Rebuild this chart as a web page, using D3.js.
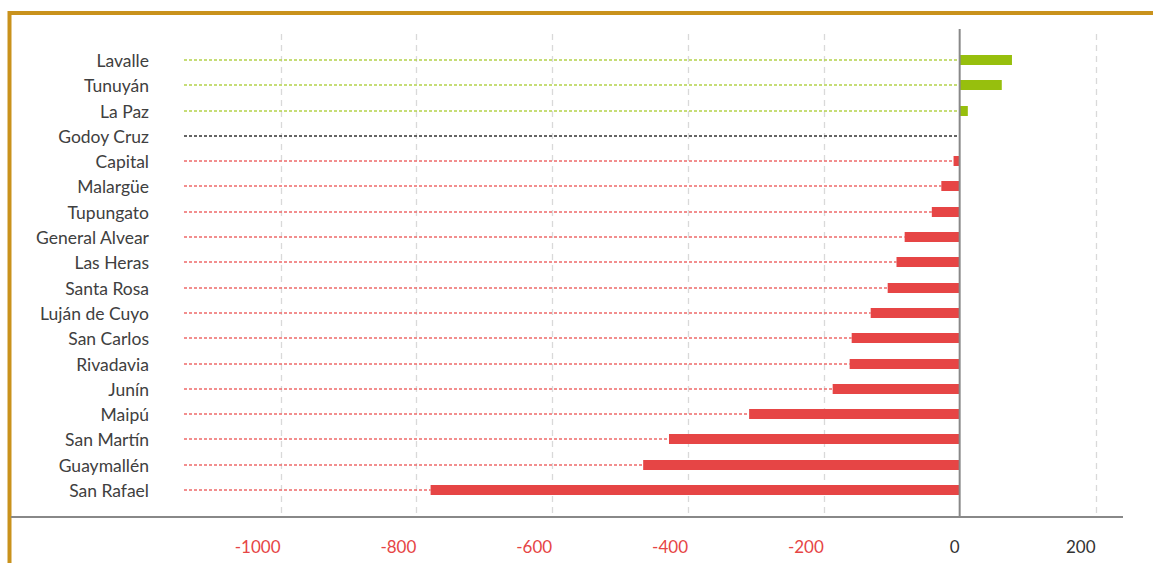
<!DOCTYPE html>
<html><head><meta charset="utf-8">
<script src="https://cdn.jsdelivr.net/npm/d3@7"></script>
<style>html,body{margin:0;padding:0;background:#fff;}svg{display:block;}</style>
</head><body>
<svg id="chart" width="1153" height="563"></svg>
<script>
const categories = ["Lavalle","Tunuyán","La Paz","Godoy Cruz","Capital","Malargüe","Tupungato","General Alvear","Las Heras","Santa Rosa","Luján de Cuyo","San Carlos","Rivadavia","Junín","Maipú","San Martín","Guaymallén","San Rafael"];
const values = [77, 62, 12, 0, -9, -27, -41, -81, -93, -106, -131, -159, -162, -187, -310, -428, -466, -779];
const tickValues = [-1000, -800, -600, -400, -200, 0, 200];

const svg = d3.select("#chart");
const x = d3.scaleLinear().domain([-1000, 200]).range([280.5, 1095.5]);
const y = d3.scalePoint().domain(categories).range([60, 490]);
const data = categories.map((c, i) => ({cat: c, v: values[i]}));
const col = v => v > 0 ? "#B4D24A" : (v < 0 ? "#EE6A6A" : "#333");
const font = "Lato, 'Liberation Sans', sans-serif";
const yr = c => Math.round(y(c));

// border
svg.append("path").attr("d", "M9.5,563 V13 H1153").attr("fill", "none")
  .attr("stroke", "#C9921C").attr("stroke-width", 4);

// gridlines
svg.append("g").selectAll("line").data(tickValues.filter(t => t !== 0)).join("line")
  .attr("x1", d => Math.round(x(d)) + 0.5).attr("x2", d => Math.round(x(d)) + 0.5).attr("y1", 34).attr("y2", 516)
  .attr("stroke", "#d9d9d9").attr("stroke-width", 1.3).attr("stroke-dasharray", "6,5");

// dotted leader lines
svg.append("g").selectAll("line").data(data).join("line")
  .attr("x1", 184).attr("x2", d => x(Math.min(d.v, 0)))
  .attr("y1", d => yr(d.cat)).attr("y2", d => yr(d.cat))
  .attr("stroke", d => col(d.v)).attr("stroke-width", 1.6).attr("stroke-dasharray", "3,2");

// bars
svg.append("g").selectAll("rect").data(data.filter(d => d.v !== 0)).join("rect")
  .attr("x", d => x(Math.min(d.v, 0)))
  .attr("width", d => Math.abs(x(d.v) - x(0)))
  .attr("y", d => yr(d.cat) - 5).attr("height", 10)
  .attr("fill", d => d.v > 0 ? "#97BF0D" : "#E64545");

// zero line
svg.append("line").attr("x1", x(0)).attr("x2", x(0)).attr("y1", 29).attr("y2", 517)
  .attr("stroke", "#888").attr("stroke-width", 2);

// axis line
svg.append("line").attr("x1", 11).attr("x2", 1123).attr("y1", 517).attr("y2", 517)
  .attr("stroke", "#888").attr("stroke-width", 2);

// category labels
svg.append("g").selectAll("text").data(categories).join("text")
  .attr("x", 149).attr("y", d => yr(d) + 1).attr("dy", "0.35em")
  .attr("text-anchor", "end").attr("font-family", font).attr("font-size", 17.5)
  .attr("fill", "#404040").text(d => d);

// tick labels
svg.append("g").selectAll("text").data(tickValues).join("text")
  .attr("x", d => x(d)).attr("y", 553)
  .attr("text-anchor", "end").attr("font-family", font).attr("font-size", 17)
  .attr("fill", d => d < 0 ? "#E64545" : "#333").text(d => d);
</script>
</body></html>
